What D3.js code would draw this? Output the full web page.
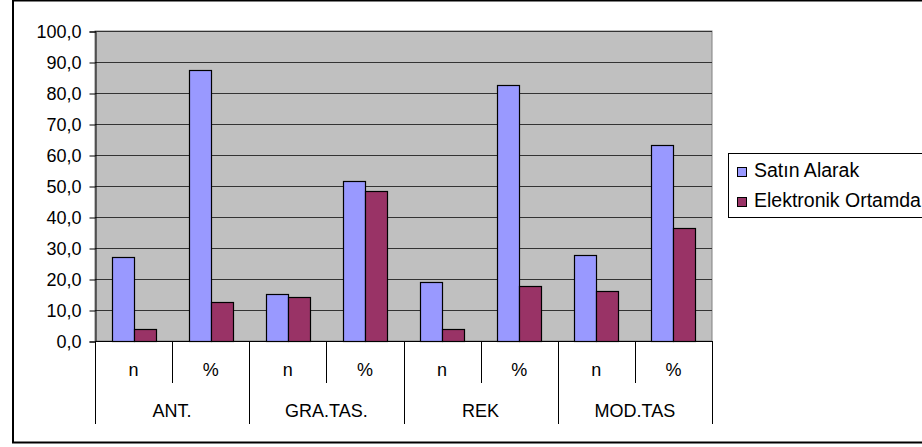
<!DOCTYPE html>
<html>
<head>
<meta charset="utf-8">
<script src="https://cdn.jsdelivr.net/npm/d3@7"></script>
<style>
  body { margin: 0; background: #fff; }
  svg { display: block; font-family: "Liberation Sans", Arial, sans-serif; }
</style>
</head>
<body>
<script>
const groups = ["ANT.", "GRA.TAS.", "REK", "MOD.TAS"],
    subs = ["n", "%"],
    seriesNames = ["Satın Alarak", "Elektronik Ortamda"],
    satinAlarak = [27.0, 87.4, 15.3, 51.7, 19.0, 82.5, 27.8, 63.3],
    elektronik = [4.0, 12.7, 14.3, 48.3, 4.0, 17.6, 16.1, 36.5],
    yTicks = [0, 10, 20, 30, 40, 50, 60, 70, 80, 90, 100],
    colors = ["#9999ff", "#993366"];

const W = 922, H = 447,
    fontSize = 18,
    plot = {left: 95, right: 712, top: 31, bottom: 341};

const slots = [];
groups.forEach(g => subs.forEach(s => slots.push(g + "|" + s)));

const svg = d3.select("body").append("svg").attr("width", W).attr("height", H);

// outer chart border
svg.append("rect")
    .attr("x", 13).attr("y", 0.5)
    .attr("width", W + 10).attr("height", 442)
    .attr("fill", "#fff").attr("stroke", "#000").attr("stroke-width", 2);

const x = d3.scaleBand().domain(slots).range([plot.left, plot.right]).paddingInner(0).paddingOuter(0);
const y = d3.scaleLinear().domain([0, 100]).range([plot.bottom, plot.top]);

// plot background
svg.append("rect")
    .attr("x", plot.left).attr("y", plot.top)
    .attr("width", plot.right - plot.left).attr("height", plot.bottom - plot.top)
    .attr("fill", "#c0c0c0").attr("stroke", "#808080").attr("stroke-width", 1);

// gridlines
svg.append("g").selectAll("line")
    .data(yTicks.filter(d => d > 0))
    .join("line")
    .attr("x1", plot.left).attr("x2", plot.right)
    .attr("y1", d => Math.round(y(d)) + 0.5).attr("y2", d => Math.round(y(d)) + 0.5)
    .attr("stroke", "#333").attr("stroke-width", 1);

// y axis
const yAxis = d3.axisLeft(y).tickValues(yTicks).tickSize(6).tickPadding(8)
    .tickFormat(d => d3.format(".1f")(d).replace(".", ","));
svg.append("g")
    .attr("transform", "translate(" + (plot.left + 0.5) + ",0.5)")
    .call(yAxis)
    .attr("font-size", fontSize).attr("font-family", null)
    .call(g => g.selectAll("text").attr("fill", "#000"))
    .call(g => g.selectAll("line,path").attr("stroke", "#000"));

// bars
const barW = x.bandwidth() / 3.5;
const rows = slots.map((s, i) => ({slot: s, vals: [satinAlarak[i], elektronik[i]]}));
const barG = svg.append("g");
rows.forEach(r => {
    r.vals.forEach((v, k) => {
        const x0 = x(r.slot) + x.bandwidth() * 0.75 / 3.5 + k * barW;
        barG.append("rect")
            .attr("x", Math.round(x0) + 0.5)
            .attr("y", Math.round(y(v)) + 0.5)
            .attr("width", Math.round(barW))
            .attr("height", Math.round(y(0)) - Math.round(y(v)))
            .attr("fill", colors[k]).attr("stroke", "#000").attr("stroke-width", 1.2);
    });
});

// category axis
const cat = svg.append("g").attr("stroke", "#000");
cat.append("line")
    .attr("x1", plot.left).attr("x2", plot.right)
    .attr("y1", plot.bottom + 0.5).attr("y2", plot.bottom + 0.5);
slots.forEach((s, i) => {
    const xx = Math.round(x(s)) + 0.5;
    cat.append("line")
        .attr("x1", xx).attr("x2", xx)
        .attr("y1", plot.bottom).attr("y2", i % 2 === 0 ? 424 : 383);
});
cat.append("line")
    .attr("x1", plot.right + 0.5).attr("x2", plot.right + 0.5)
    .attr("y1", plot.bottom).attr("y2", 424);

svg.append("g").selectAll("text")
    .data(slots)
    .join("text")
    .attr("x", d => x(d) + x.bandwidth() / 2)
    .attr("y", 376)
    .attr("text-anchor", "middle").attr("font-size", fontSize)
    .text(d => d.split("|")[1]);

svg.append("g").selectAll("text")
    .data(groups)
    .join("text")
    .attr("x", g => x(g + "|n") + x.bandwidth())
    .attr("y", 417)
    .attr("text-anchor", "middle").attr("font-size", fontSize)
    .text(g => g);

// legend
const lg = svg.append("g");
lg.append("rect")
    .attr("x", 728.5).attr("y", 153.5).attr("width", 220).attr("height", 64)
    .attr("fill", "#fff").attr("stroke", "#000").attr("stroke-width", 1);
seriesNames.forEach((n, k) => {
    lg.append("rect")
        .attr("x", 737.5).attr("y", 167.5 + k * 30).attr("width", 9).attr("height", 9)
        .attr("fill", colors[k]).attr("stroke", "#000");
    lg.append("text")
        .attr("x", 754).attr("y", 177 + k * 30)
        .attr("font-size", 19.5)
        .text(n);
});
</script>
</body>
</html>
